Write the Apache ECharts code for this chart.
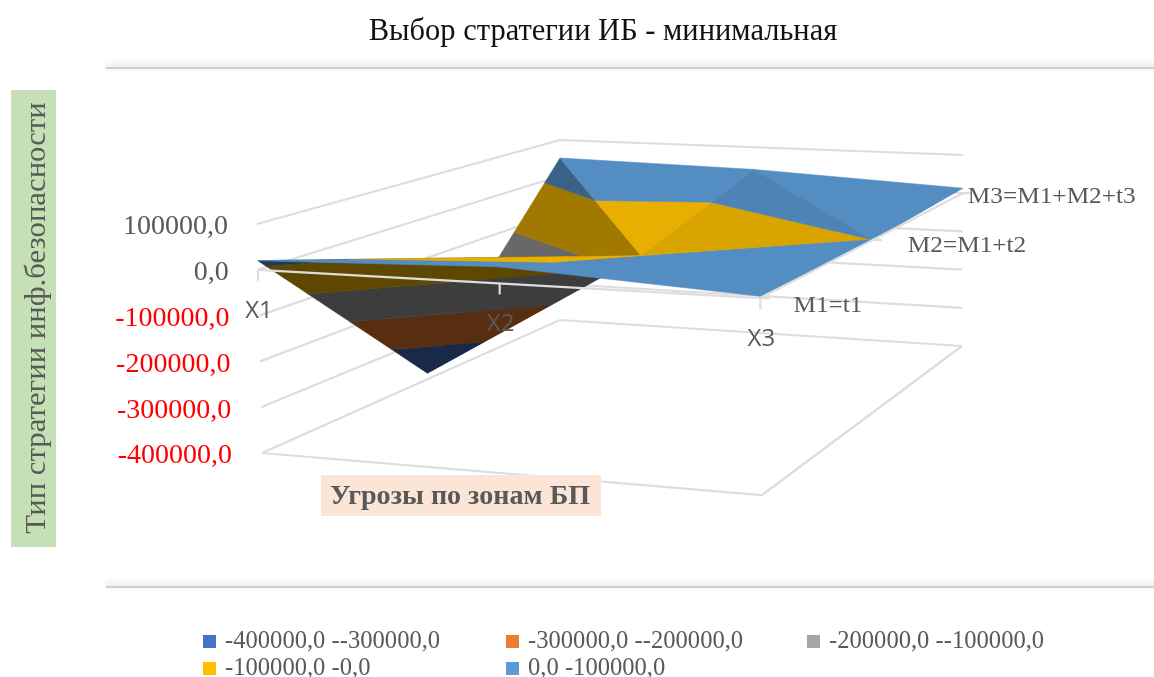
<!DOCTYPE html>
<html>
<head>
<meta charset="utf-8">
<title>Выбор стратегии ИБ</title>
<script src="https://cdn.jsdelivr.net/npm/echarts@6/dist/echarts.min.js"></script>
<style>
  html, body { margin: 0; padding: 0; background: #fff; }
  #chart { width: 1154px; height: 677px; }
</style>
</head>
<body>
<div id="chart"></div>
<script>
const xCategories = ["X1", "X2", "X3"];
const depthCategories = ["M1=t1", "M2=M1+t2", "M3=M1+M2+t3"];
const zTicks = [100000, 0, -100000, -200000, -300000, -400000];

// values per strategy row, one for each of X1, X2, X3
const m1Values = [20000, 35000, 4000];
const m2Values = [-385000, -65000, 0];
const m3Values = [50000, 40000, 13000];
const surfaceRows = [m1Values, m2Values, m3Values];

const bandNames = [
  "-400000,0 --300000,0",
  "-300000,0 --200000,0",
  "-200000,0 --100000,0",
  "-100000,0 -0,0",
  "0,0 -100000,0"
];
const bandLows = [-400000, -300000, -200000, -100000, 0];
const bandHighs = [-300000, -200000, -100000, 0, 100000];
const bandColors = ["#4472C4", "#ED7D31", "#A5A5A5", "#FFC000", "#5B9BD5"];

const serif = "Liberation Serif";
const grayText = "#595959";
const lineColor = "#DDDDDD";

// camera: box corners on the page, floor and top of the z range
const box = {
  floor: { a: [262, 453], b: [762, 495], c: [962, 346], d: [560, 320] },
  top: { a: [257, 224], b: [760, 249], c: [963, 155], d: [560, 140] }
};
const zMin = -400000;
const zMax = 100000;
const xWarp = [0, 0.481, 1];
const depthWarp = [0, 0.555, 1];

function lerp(p, q, t) {
  return [p[0] + (q[0] - p[0]) * t, p[1] + (q[1] - p[1]) * t];
}

function project(s, t, z) {
  let w = (z - zMin) / (zMax - zMin);
  let f = box.floor;
  let c = box.top;
  let low = lerp(lerp(f.a, f.b, s), lerp(f.d, f.c, s), t);
  let high = lerp(lerp(c.a, c.b, s), lerp(c.d, c.c, s), t);
  return lerp(low, high, w);
}

function vertex(xi, mi) {
  let z = surfaceRows[mi][xi];
  let p = project(xWarp[xi], depthWarp[mi], z);
  return [p[0], p[1], z];
}

// triangles back to front, shade is how much light the face gets
const triangles = [
  { v: [[1, 2], [2, 2], [2, 1]], shade: 0.91 },
  { v: [[1, 1], [1, 2], [2, 1]], shade: 0.85 },
  { v: [[0, 1], [1, 1], [0, 2]], shade: 0.63 },
  { v: [[0, 2], [1, 2], [1, 1]], shade: 0.91 },
  { v: [[0, 0], [0, 1], [1, 1]], shade: 0.37 },
  { v: [[1, 0], [2, 1], [1, 1]], shade: 0.91 },
  { v: [[0, 0], [1, 0], [1, 1]], shade: 0.91 },
  { v: [[1, 0], [2, 0], [2, 1]], shade: 0.91 }
];

function clipAbove(poly, level, sign) {
  let out = [];
  poly.forEach((p, i) => {
    let q = poly[(i + 1) % poly.length];
    let dp = (p[2] - level) * sign;
    let dq = (q[2] - level) * sign;
    if (dp >= 0) out.push(p);
    if (dp * dq < 0) {
      let t = dp / (dp - dq);
      out.push([p[0] + (q[0] - p[0]) * t, p[1] + (q[1] - p[1]) * t, level]);
    }
  });
  return out;
}

function shadeColor(hex, k) {
  let n = parseInt(hex.slice(1), 16);
  let r = Math.round(((n >> 16) & 255) * k);
  let g = Math.round(((n >> 8) & 255) * k);
  let b = Math.round((n & 255) * k);
  return "rgb(" + r + "," + g + "," + b + ")";
}

function bandSeries(name, b) {
  return {
    name: name,
    type: "custom",
    coordinateSystem: "cartesian2d",
    silent: true,
    clip: false,
    animation: false,
    itemStyle: { color: bandColors[b] },
    data: triangles.map((t, i) => [i]),
    renderItem: (params, api) => {
      let i = api.value(0);
      let tri = triangles[i];
      let poly = tri.v.map(v => vertex(v[0], v[1]));
      poly = clipAbove(poly, bandLows[b], 1);
      poly = clipAbove(poly, bandHighs[b], -1);
      if (poly.length < 3) return { type: "group", children: [] };
      let color = shadeColor(bandColors[b], tri.shade);
      return {
        type: "polygon",
        z2: 10 + i * 10 + b,
        shape: { points: poly.map(p => api.coord([p[0], p[1]])) },
        style: { fill: color, stroke: color, lineWidth: 0.6 }
      };
    }
  };
}

function helperSeries(data, renderItem) {
  return {
    type: "custom",
    coordinateSystem: "cartesian2d",
    silent: true,
    clip: false,
    animation: false,
    data: data,
    renderItem: renderItem
  };
}

function lineElement(api, points, z2, width) {
  return {
    type: "polyline",
    z2: z2,
    shape: { points: points.map(p => api.coord(p)) },
    style: { fill: null, stroke: lineColor, lineWidth: width }
  };
}

function textElement(api, p, text, opts, scaleX) {
  let c = api.coord(p);
  return {
    type: "text",
    z2: 200,
    x: c[0],
    y: c[1],
    scaleX: scaleX || 1,
    style: Object.assign({ text: text, fill: grayText, fontFamily: serif, verticalAlign: "middle" }, opts)
  };
}

function formatTick(v) {
  return v.toFixed(1).replace(".", ",");
}

let wallLines = helperSeries(zTicks.map(z => [z]), (params, api) => {
  let z = api.value(0);
  return lineElement(api, [project(0, 0, z), project(0, 1, z), project(1, 1, z)], 1, 2.2);
});

let floorLines = helperSeries([[0]], (params, api) => {
  return lineElement(api, [project(0, 0, zMin), project(1, 0, zMin), project(1, 1, zMin)], 1, 2.2);
});

let xAxisLine = helperSeries([[0]], (params, api) => {
  return lineElement(api, [project(0, 0, 0), project(1, 0, 0), project(1, 1, 0)], 150, 2.2);
});

let xTicks = helperSeries(xCategories.map((c, i) => [i]), (params, api) => {
  let i = api.value(0);
  let p = project(xWarp[i], 0, 0);
  return {
    type: "group",
    children: [
      lineElement(api, [p, [p[0], p[1] + 11]], 150, 2.2),
      textElement(api, [p[0] + 1, p[1] + 41], xCategories[i], {
        fontFamily: "Open Sans",
        fontSize: 24,
        align: "center"
      })
    ]
  };
});

const depthLabelShift = [33, 35, 5];
let depthLabels = helperSeries(depthCategories.map((c, i) => [i]), (params, api) => {
  let i = api.value(0);
  let p = project(1, depthWarp[i], 0);
  return {
    type: "group",
    children: [
      lineElement(api, [p, [p[0] + 9, p[1]]], 150, 2.2),
      textElement(api, [p[0] + depthLabelShift[i], p[1] + 8 - i * 2], depthCategories[i], {
        fontSize: 23,
        align: "left"
      }, 1.1)
    ]
  };
});

let zLabels = helperSeries(zTicks.map(z => [z]), (params, api) => {
  let z = api.value(0);
  let p = project(0, 0, z);
  return textElement(api, [228 + zTicks.indexOf(z) * 0.8, p[1] + 3], formatTick(z), {
    fontSize: 28,
    align: "right",
    fill: z < 0 ? "#FF0000" : grayText
  });
});

function legendItem(name, left, top) {
  return {
    left: left,
    top: top,
    data: [name],
    icon: "rect",
    itemWidth: 13,
    itemHeight: 13,
    padding: 0,
    selectedMode: false,
    textStyle: { color: grayText, fontFamily: serif, fontSize: 24.6, padding: [0, 0, 0, 4] }
  };
}

function panelEdge(y) {
  return {
    type: "rect",
    left: 106,
    top: y,
    shape: { width: 1060, height: 2 },
    style: { fill: "#CFCFCF", shadowColor: "rgba(0,0,0,0.22)", shadowBlur: 6, shadowOffsetY: -2 }
  };
}

let chart = echarts.init(document.getElementById("chart"), null, { renderer: "canvas" });
let option = {
  animation: false,
  backgroundColor: "#fff",
  title: {
    text: "Выбор стратегии ИБ - минимальная",
    left: 598,
    textAlign: "center",
    top: 11,
    textStyle: { fontFamily: serif, fontSize: 30.5, fontWeight: "normal", color: "#111" }
  },
  grid: { left: 0, right: 0, top: 0, bottom: 0 },
  xAxis: { type: "value", min: 0, max: 1154, show: false },
  yAxis: { type: "value", min: 0, max: 677, inverse: true, show: false },
  legend: [
    legendItem(bandNames[0], 203, 629),
    legendItem(bandNames[1], 506, 629),
    legendItem(bandNames[2], 807, 629),
    legendItem(bandNames[3], 203, 656),
    legendItem(bandNames[4], 506, 656)
  ],
  graphic: [
    panelEdge(67),
    panelEdge(586),
    {
      type: "rect",
      left: 11,
      top: 90,
      shape: { width: 45, height: 457 },
      style: { fill: "#C5E0B4" }
    },
    {
      type: "text",
      x: 37,
      y: 318,
      rotation: Math.PI / 2,
      scaleX: 1.06,
      style: {
        text: "Тип стратегии инф.безопасности",
        fontFamily: serif,
        fontSize: 29,
        fill: grayText,
        align: "center",
        verticalAlign: "middle"
      }
    },
    {
      type: "rect",
      z: 100,
      left: 321,
      top: 475,
      shape: { width: 280, height: 41 },
      style: { fill: "#FBE5D6" }
    },
    {
      type: "text",
      z: 101,
      x: 460,
      y: 497,
      scaleX: 1.04,
      style: {
        text: "Угрозы по зонам БП",
        fontFamily: serif,
        fontWeight: "bold",
        fontSize: 27,
        fill: grayText,
        align: "center",
        verticalAlign: "middle"
      }
    }
  ],
  series: [wallLines, floorLines]
    .concat(bandNames.map((name, b) => bandSeries(name, b)))
    .concat([xAxisLine, xTicks, depthLabels, zLabels])
};
chart.setOption(option);
</script>
</body>
</html>
